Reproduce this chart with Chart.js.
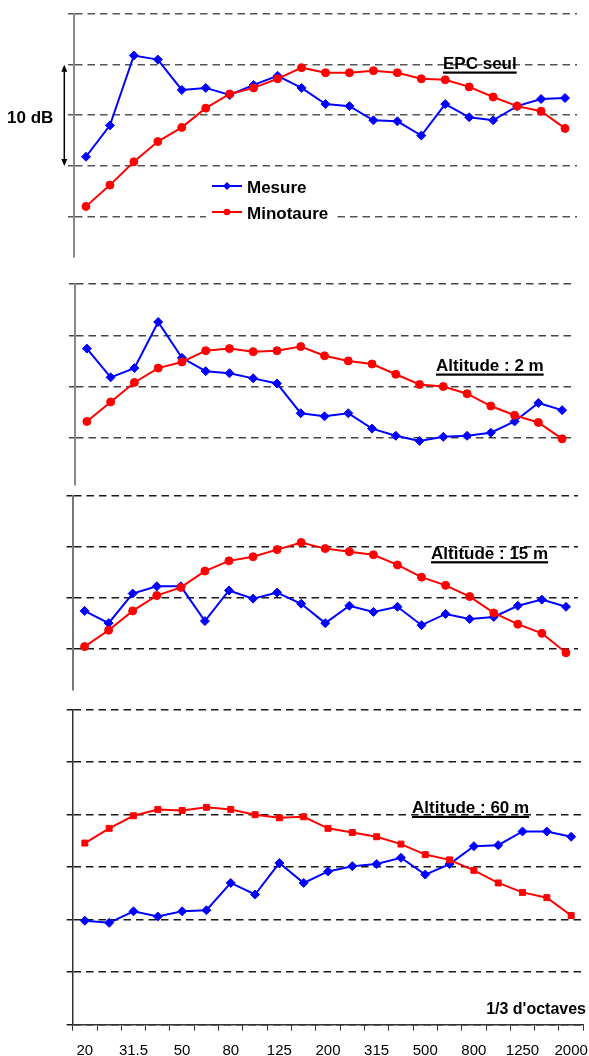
<!DOCTYPE html>
<html>
<head>
<meta charset="utf-8">
<script src="https://cdn.jsdelivr.net/npm/chart.js@4/dist/chart.umd.min.js"></script>
<style>
  body { margin: 0; background: #fff; }
  #wrap { position: relative; width: 589px; height: 1056px; }
  .panel { position: absolute; left: 0; width: 589px; }
</style>
</head>
<body>
<div id="wrap">
  <div class="panel" style="top:0;height:265px"><canvas id="c1"></canvas></div>
  <div class="panel" style="top:270px;height:220px"><canvas id="c2"></canvas></div>
  <div class="panel" style="top:490px;height:205px"><canvas id="c3"></canvas></div>
  <div class="panel" style="top:700px;height:356px"><canvas id="c4"></canvas></div>
</div>
<script>
// bandes de 1/3 d'octave
var bands = ['20','25','31.5','40','50','63','80','100','125','160','200','250','315','400','500','630','800','1000','1250','1600','2000'];
var tickLabels = ['20','31.5','50','80','125','200','315','500','800','1250','2000'];

// niveaux relatifs (dB)
var epcMesure    = [10.9, 14.0, 20.9, 20.5, 17.5, 17.7, 17.0, 18.0, 18.9, 17.7, 16.1, 15.9, 14.5, 14.4, 13.0, 16.1, 14.8, 14.5, 15.9, 16.6, 16.7];
var epcMinotaure = [6.0, 8.1, 10.4, 12.4, 13.8, 15.7, 17.1, 17.7, 18.6, 19.7, 19.2, 19.2, 19.4, 19.2, 18.6, 18.5, 17.8, 16.8, 15.9, 15.4, 13.7];
var alt2Mesure    = [18.7, 15.9, 16.8, 21.3, 17.8, 16.5, 16.3, 15.8, 15.3, 12.4, 12.1, 12.4, 10.9, 10.2, 9.7, 10.1, 10.2, 10.5, 11.6, 13.4, 12.7];
var alt2Minotaure = [11.6, 13.5, 15.4, 16.8, 17.4, 18.5, 18.7, 18.4, 18.5, 18.9, 18.0, 17.5, 17.2, 16.2, 15.2, 15.0, 14.3, 13.1, 12.2, 11.5, 9.9];
var alt15Mesure    = [13.7, 12.5, 15.4, 16.1, 16.1, 12.7, 15.7, 14.9, 15.5, 14.4, 12.5, 14.2, 13.6, 14.1, 12.3, 13.4, 12.9, 13.1, 14.2, 14.8, 14.1];
var alt15Minotaure = [10.2, 11.8, 13.7, 15.2, 16.0, 17.6, 18.6, 19.0, 19.7, 20.4, 19.8, 19.5, 19.2, 18.2, 17.0, 16.2, 15.1, 13.5, 12.4, 11.5, 9.6];
var alt60Mesure    = [9.9, 9.7, 10.8, 10.3, 10.8, 10.9, 13.5, 12.4, 15.4, 13.5, 14.6, 15.1, 15.3, 15.9, 14.3, 15.3, 17.0, 17.1, 18.4, 18.4, 17.9];
var alt60Minotaure = [17.3, 18.7, 19.9, 20.5, 20.4, 20.7, 20.5, 20.0, 19.7, 19.8, 18.7, 18.3, 17.9, 17.2, 16.2, 15.7, 14.7, 13.5, 12.6, 12.1, 10.4];

var BLUE = '#0000ff',
    RED = '#ff0000',
    FONT = '"Liberation Sans", Arial, sans-serif';

function drawTitle(ctx, txt, x, y) {
  ctx.save();
  ctx.font = 'bold 17px ' + FONT;
  ctx.fillStyle = '#000';
  ctx.textAlign = 'left';
  ctx.textBaseline = 'alphabetic';
  ctx.fillText(txt, x, y);
  var w = ctx.measureText(txt).width;
  ctx.fillRect(x, y + 2.5, w, 2.2);
  ctx.restore();
} // drawTitle

function drawMarker(ctx, style, x, y, color) {
  ctx.fillStyle = color;
  ctx.beginPath();
  if (style == 'rectRot') {
    ctx.moveTo(x, y - 4); ctx.lineTo(x + 4, y); ctx.lineTo(x, y + 4); ctx.lineTo(x - 4, y);
  } else {
    ctx.arc(x, y, 3.3, 0, Math.PI * 2);
  }
  ctx.closePath();
  ctx.fill();
} // drawMarker

function makePanel(id, o) {
  return new Chart(document.getElementById(id), {
    type: 'line',
    data: {
      labels: bands,
      datasets: [{
        label: 'Mesure',
        data: o.mesure,
        borderColor: BLUE,
        backgroundColor: BLUE,
        borderWidth: 2,
        pointStyle: 'rectRot',
        pointRadius: 4.5,
        pointBorderWidth: 1,
        order: 2
      }, {
        label: 'Minotaure',
        data: o.mino,
        borderColor: RED,
        backgroundColor: RED,
        borderWidth: 2,
        pointStyle: o.minoStyle,
        pointRadius: o.minoStyle == 'rect' ? 4.2 : 4,
        pointBorderWidth: 1,
        order: 1
      }]
    },
    options: {
      responsive: true,
      maintainAspectRatio: false,
      animation: false,
      layout: { padding: o.pad },
      elements: { line: { tension: 0 } },
      plugins: { legend: { display: false }, tooltip: { enabled: false } },
      scales: {
        x: {
          display: o.showX,
          offset: true,
          grid: { display: true, drawOnChartArea: false, drawTicks: true, tickLength: 6, offset: true, color: '#333', lineWidth: 1 },
          border: { display: true, color: '#333', width: 1.5 },
          ticks: {
            autoSkip: false,
            maxRotation: 0,
            padding: 11,
            color: '#000',
            font: { family: FONT, size: 15 },
            callback: function(v) {
              var l = this.getLabelForValue(v);
              return tickLabels.indexOf(l) >= 0 ? l : '';
            }
          },
          afterFit: function(s) {
            if (!o.showX) return;
            s.height = 31.3;
            s.paddingLeft = 0;
            s.paddingRight = 0;
          }
        },
        y: {
          min: o.min,
          max: o.max,
          bounds: 'data',
          afterBuildTicks: function(s) {
            s.ticks = o.grid.map(function(v) { return { value: v }; });
          },
          afterFit: function(s) { s.width = 8; },
          ticks: { display: false },
          grid: { color: o.gridColor, lineWidth: 1.5, drawTicks: true, tickLength: 6, tickColor: o.gridColor },
          border: { display: true, color: o.axisColor, width: o.axisWidth, dash: [7.5, 5] }
        }
      }
    },
    plugins: [{
      id: 'deco',
      afterDraw: o.deco
    }]
  });
} // makePanel


// EPC seul
makePanel('c1', {
  mesure: epcMesure, mino: epcMinotaure, minoStyle: 'circle',
  min: 1, max: 25, grid: [5, 10, 15, 20, 25],
  pad: { left: 66, right: 12, top: 14, bottom: 8 },
  showX: false, gridColor: '#555', axisColor: '#888', axisWidth: 2,
  deco: function(chart) {
    var ctx = chart.ctx, y = chart.scales.y;
    drawTitle(ctx, 'EPC seul', 443, 69);

    // legende (fond blanc sur la grille)
    ctx.save();
    ctx.fillStyle = '#fff';
    ctx.fillRect(206, 172, 130, 54);
    ctx.lineWidth = 2;
    [['Mesure', BLUE, 'rectRot', 186], ['Minotaure', RED, 'circle', 212]].forEach(function(it) {
      ctx.strokeStyle = it[1];
      ctx.beginPath();
      ctx.moveTo(212, it[3]);
      ctx.lineTo(242, it[3]);
      ctx.stroke();
      drawMarker(ctx, it[2], 227, it[3], it[1]);
      ctx.fillStyle = '#000';
      ctx.font = 'bold 17px ' + FONT;
      ctx.fillText(it[0], 247, it[3] + 6.5);
    });

    // fleche 10 dB
    var top = y.getPixelForValue(20), bot = y.getPixelForValue(10), ax = 64.3;
    ctx.strokeStyle = '#000';
    ctx.fillStyle = '#000';
    ctx.lineWidth = 1.5;
    ctx.beginPath();
    ctx.moveTo(ax, top + 5);
    ctx.lineTo(ax, bot - 5);
    ctx.stroke();
    ctx.beginPath();
    ctx.moveTo(ax, top); ctx.lineTo(ax - 3, top + 7); ctx.lineTo(ax + 3, top + 7);
    ctx.closePath(); ctx.fill();
    ctx.beginPath();
    ctx.moveTo(ax, bot); ctx.lineTo(ax - 3, bot - 7); ctx.lineTo(ax + 3, bot - 7);
    ctx.closePath(); ctx.fill();
    ctx.font = 'bold 17px ' + FONT;
    ctx.fillText('10 dB', 7, y.getPixelForValue(15) + 8);
    ctx.restore();
  }
});

// Altitude : 2 m
makePanel('c2', {
  mesure: alt2Mesure, mino: alt2Minotaure, minoStyle: 'circle',
  min: 5.45, max: 25, grid: [10, 15, 20, 25],
  pad: { left: 67, right: 15, top: 14, bottom: 5 },
  showX: false, gridColor: '#444', axisColor: '#888', axisWidth: 2,
  deco: function(chart) {
    drawTitle(chart.ctx, 'Altitude : 2 m', 436, 101);
  }
});

// Altitude : 15 m
makePanel('c3', {
  mesure: alt15Mesure, mino: alt15Minotaure, minoStyle: 'circle',
  min: 6, max: 25, grid: [10, 15, 20, 25],
  pad: { left: 64.5, right: 11, top: 5.3, bottom: 4.3 },
  showX: false, gridColor: '#1a1a1a', axisColor: '#777', axisWidth: 2,
  deco: function(chart) {
    drawTitle(chart.ctx, 'Altitude : 15 m', 431, 68.7);
  }
});

// Altitude : 60 m
makePanel('c4', {
  mesure: alt60Mesure, mino: alt60Minotaure, minoStyle: 'rect',
  min: 0, max: 30, grid: [0, 5, 10, 15, 20, 25, 30],
  pad: { left: 64.7, right: 5.7, top: 9.7, bottom: 0 },
  showX: true, gridColor: '#1a1a1a', axisColor: '#333', axisWidth: 1.5,
  deco: function(chart) {
    var ctx = chart.ctx;
    drawTitle(ctx, 'Altitude : 60 m', 412, 113.3);
    ctx.save();
    ctx.font = 'bold 16px ' + FONT;
    ctx.fillStyle = '#000';
    ctx.textAlign = 'right';
    ctx.fillText("1/3 d'octaves", 586, 314.3);
    ctx.restore();
  }
});
</script>
</body>
</html>
